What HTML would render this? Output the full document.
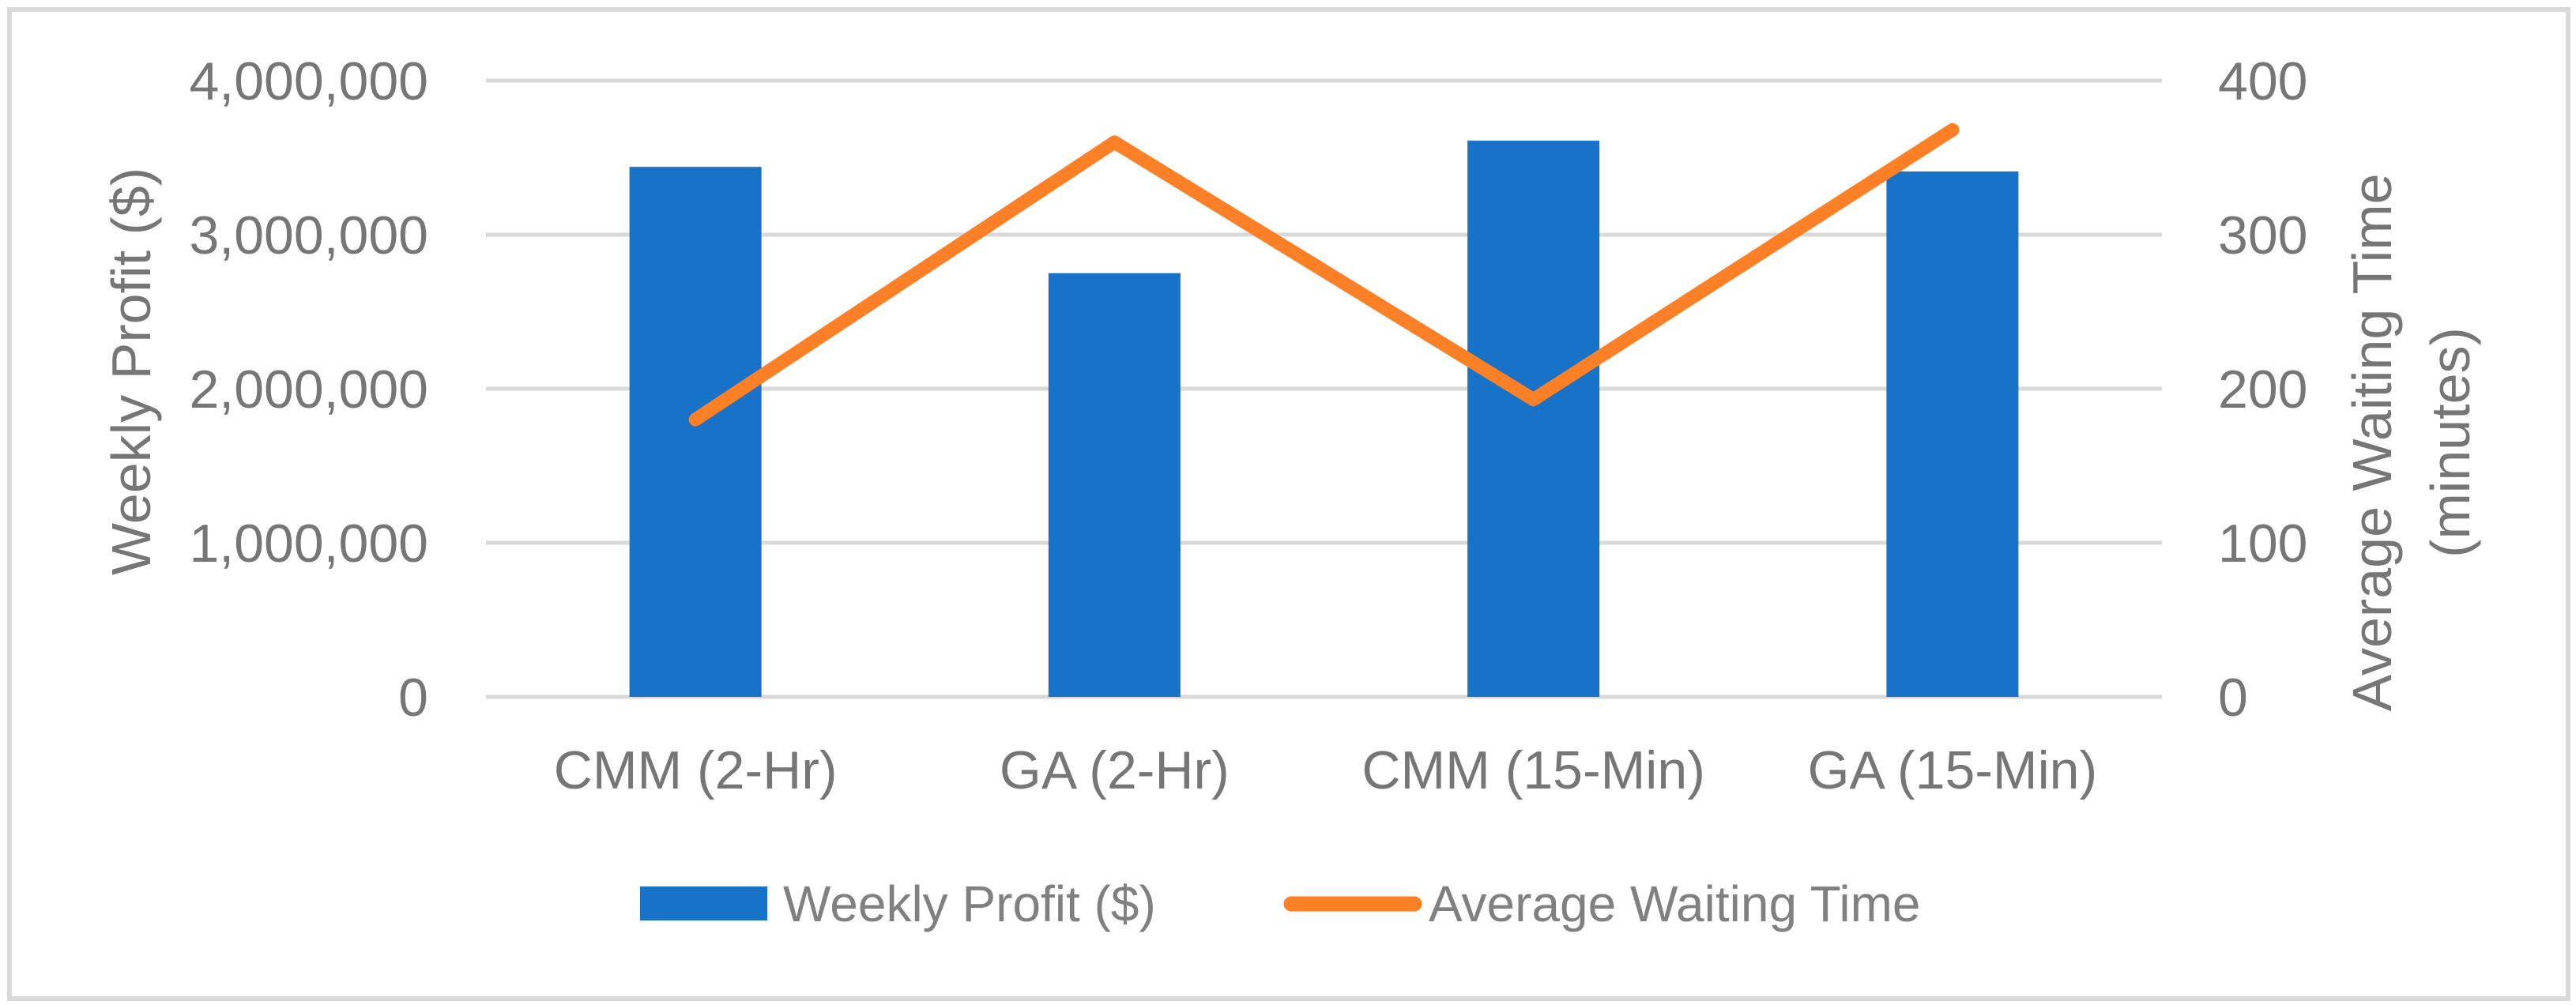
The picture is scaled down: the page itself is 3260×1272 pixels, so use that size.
<!DOCTYPE html>
<html><head><meta charset="utf-8"><style>
html,body{margin:0;padding:0;background:#fff;}
svg{display:block;font-family:"Liberation Sans",sans-serif;}
</style></head><body>
<svg id="chart" width="3260" height="1272" viewBox="0 0 3260 1272">
<rect x="12" y="12" width="3238" height="1252" fill="#fff" stroke="#d9d9d9" stroke-width="6"/>
<g id="grid"></g>
<g id="bars"></g>
<g id="line"></g>
<g id="yl"></g>
<g id="yr"></g>
<g id="xl"></g>
<text transform="translate(190,470) rotate(-90)" text-anchor="middle" font-size="70" fill="#767676">Weekly Profit ($)</text>
<text transform="translate(3026,560) rotate(-90)" text-anchor="middle" font-size="70" fill="#767676">Average Waiting Time</text>
<text transform="translate(3125,560) rotate(-90)" text-anchor="middle" font-size="70" fill="#767676">(minutes)</text>
<g>
<rect x="810" y="1122" width="161" height="43" fill="#1872c7"/>
<text x="991" y="1166" font-size="64" fill="#808080">Weekly Profit ($)</text>
<line x1="1634" y1="1144" x2="1790" y2="1144" stroke="#fd7f26" stroke-width="19" stroke-linecap="round"/>
<text x="1808" y="1166" font-size="64" fill="#808080">Average Waiting Time</text>
</g>
</svg>
<script>
const categories = ["CMM (2-Hr)", "GA (2-Hr)", "CMM (15-Min)", "GA (15-Min)"];
const profitValues = [3440000, 2750000, 3610000, 3410000];
const waitingValues = [180, 360, 193, 368];
const leftTicks = ["0", "1,000,000", "2,000,000", "3,000,000", "4,000,000"];
const rightTicks = ["0", "100", "200", "300", "400"];

const NS = "http://www.w3.org/2000/svg";
const X0 = 615, X1 = 2736, Y0 = 882, Y1 = 102;
const band = (X1 - X0) / categories.length;
const xC = i => X0 + band * (i + 0.5);
const yL = v => Y0 - (v / 4000000) * (Y0 - Y1);
const yR = v => Y0 - (v / 400) * (Y0 - Y1);
function mk(tag, attrs, parent) {
  const e = document.createElementNS(NS, tag);
  for (const k in attrs) e.setAttribute(k, attrs[k]);
  parent.appendChild(e);
  return e;
}
const grid = document.getElementById('grid');
const yl = document.getElementById('yl');
const yr = document.getElementById('yr');
leftTicks.forEach((t, i) => {
  const y = Y0 - i * (Y0 - Y1) / (leftTicks.length - 1);
  const g = mk('line', {x1: X0, x2: X1, y1: y, y2: y, stroke: '#d9d9d9', 'stroke-width': 5}, grid);
  
  
  const tl = mk('text', {x: 542, y: y + 24, 'text-anchor': 'end', 'font-size': 68, fill: '#767676'}, yl);
  tl.textContent = t;
  
  
});
rightTicks.forEach((t, i) => {
  const y = Y0 - i * (Y0 - Y1) / (rightTicks.length - 1);
  const tr = mk('text', {x: 2807, y: y + 24, 'font-size': 68, fill: '#767676'}, yr);
  tr.textContent = t;
  
  
});
const bars = document.getElementById('bars');
const bw = 167;
profitValues.forEach((v, i) => {
  const r = mk('rect', {x: xC(i) - bw / 2, y: yL(v), width: bw, height: Y0 - yL(v), fill: '#1872c7'}, bars);
  
  
});
const xl = document.getElementById('xl');
categories.forEach((c, i) => {
  const t = mk('text', {x: xC(i), y: 998, 'text-anchor': 'middle', 'font-size': 68, fill: '#767676'}, xl);
  t.textContent = c;
  
  
});
const pts = waitingValues.map((v, i) => xC(i) + ',' + yR(v)).join(' ');
const pl = mk('polyline', {points: pts, fill: 'none', stroke: '#fd7f26', 'stroke-width': 17, 'stroke-linecap': 'round', 'stroke-linejoin': 'round'}, document.getElementById('line'));


</script>
</body></html>
